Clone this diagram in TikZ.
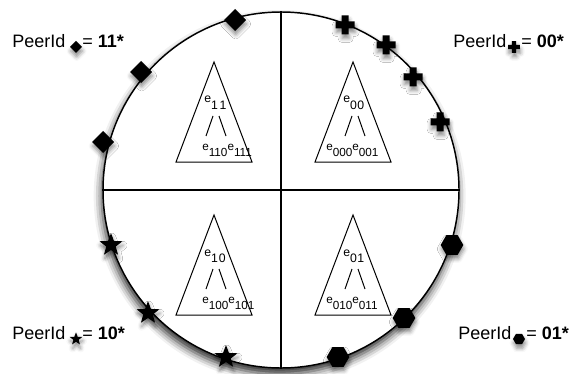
\documentclass[tikz,border=0pt]{standalone}
\usepackage{fontspec}
\setmainfont{Liberation Sans}
\usetikzlibrary{shapes.geometric,shadows.blur,calc}
\begin{document}
\begin{tikzpicture}[x=0.75pt,y=-0.75pt,
  ring/.style={circle, draw=black, line width=1.1pt, fill=white, inner sep=0pt,
    minimum size=267pt,
    blur shadow={shadow xshift=-1pt, shadow yshift=-4.5pt, shadow blur radius=6pt, shadow opacity=85}},
  mk/.style={fill=black, draw=none, inner sep=0pt, outer sep=0pt,
    blur shadow={shadow xshift=0.5pt, shadow yshift=-3pt, shadow blur radius=3pt, shadow opacity=45}},
  diamk/.style={mk, diamond, minimum size=#1}, diamk/.default=16.5pt,
  starmk/.style={mk, star, star points=5, star point ratio=2.4, minimum size=#1}, starmk/.default=18pt,
  hexmk/.style={mk, regular polygon, regular polygon sides=6, minimum size=#1}, hexmk/.default=17pt,
  plusmk/.pic={\fill[mk] (-9.5,-3.5) -- (-3.5,-3.5) -- (-3.5,-9.5) -- (3.5,-9.5) -- (3.5,-3.5) -- (9.5,-3.5)
      -- (9.5,3.5) -- (3.5,3.5) -- (3.5,9.5) -- (-3.5,9.5) -- (-3.5,3.5) -- (-9.5,3.5) -- cycle;},
  peer/.style={font=\fontsize{13.5}{16}\selectfont, inner sep=0pt, anchor=base west},
  tri/.style={draw, line width=0.75pt, line join=miter},
  twig/.style={line width=0.75pt},
  elab/.style={font=\fontsize{8.8}{10}\selectfont, inner sep=0pt, anchor=base west},
  rlab/.style={font=\fontsize{9.2}{10}\selectfont, inner sep=0pt, anchor=base west},
]
\useasboundingbox (0,0) rectangle (570,374);
\newcommand\esub[1]{e\raisebox{-5pt}{#1}}

% main circle and partition
\node[ring] (ring) at (281,190) {};
\draw[line width=0.8pt] (ring.north) -- (ring.south);
\draw[line width=0.8pt] (ring.west) -- (ring.east);

% triangles (tries)
\foreach \a/\t/\r/\p/\q/\o [count=\i] in
  {214/62/1\kern1.2pt1/110/111/-12,
   353/62/0\kern0.3pt0/000/001/-27,
   214/215/1\kern0.8pt0/100/101/-12,
   353/215/0\kern0.3pt1/010/011/-27}{
  \coordinate (apex\i) at (\a,\t);
  \draw[tri] (apex\i) -- (\a+38,\t+100) -- (\a-38,\t+100) -- cycle;
  \node[rlab] (root\i) at (\a-10,\t+41) {\esub{\r}};
  \node[elab] (leaf\i) at (\a+\o,\t+88) {\esub{\p}\esub{\q}};
  \coordinate (la\i) at (\a-1,\t+54);
  \coordinate (lb\i) at (\a-8,\t+74);
  \coordinate (ra\i) at (\a+5,\t+54);
  \coordinate (rb\i) at (\a+12,\t+74);
  \draw[twig] (la\i) -- (lb\i);
  \draw[twig] (ra\i) -- (rb\i);
}

% markers on the ring
\node[diamk] (d1) at (235,20) {};
\node[diamk] (d2) at (141,72) {};
\node[diamk] (d3) at (103,142) {};
\pic at (345,25) {plusmk};
\pic at (386,45) {plusmk};
\pic at (413,77) {plusmk};
\pic at (440,122) {plusmk};
\node[starmk] (s1) at (111,245) {};
\node[starmk] (s2) at (148,313) {};
\node[starmk] (s3) at (226,357) {};
\node[hexmk] (h1) at (452,245) {};
\node[hexmk] (h2) at (404,318) {};
\node[hexmk] (h3) at (338,357) {};

% legends
\node[peer] (pa) at (12,48) {PeerId};
\node[diamk=9pt] (pam) at (76,47) {};
\node[peer] (pav) at (82,48) {= \textbf{11*}};

\node[peer] (pb) at (453,48) {PeerId};
\pic[scale=0.62] at (514,47) {plusmk};
\node[peer] (pbv) at (521,48) {= \textbf{00*}};

\node[peer] (pc) at (12,339) {PeerId};
\node[starmk=10pt] (pcm) at (76,339) {};
\node[peer] (pcv) at (82,339) {= \textbf{10*}};

\node[peer] (pd) at (458,339) {PeerId};
\node[hexmk=9pt] (pdm) at (519,339) {};
\node[peer] (pdv) at (526,339) {= \textbf{01*}};
\end{tikzpicture}
\end{document}
